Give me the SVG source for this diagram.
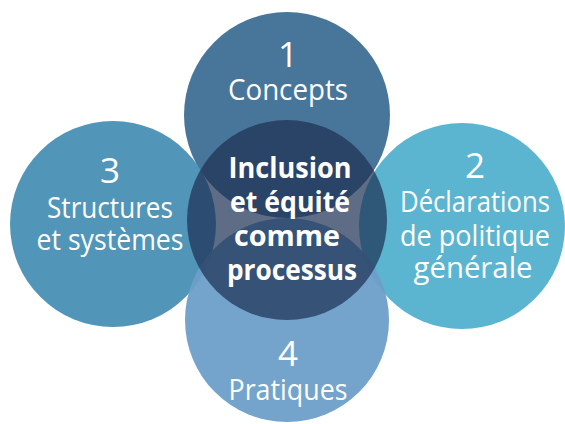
<svg xmlns="http://www.w3.org/2000/svg" width="565" height="424" viewBox="0 0 565 424">
<style>
.lbl{font-family:"Open Sans","Noto Sans",sans-serif;fill:#fff;text-anchor:middle;font-size:29px}
.num{font-size:35px}
.ctr{font-family:"Open Sans","Noto Sans",sans-serif;fill:#fff;text-anchor:middle;font-size:29px;font-weight:bold}
.outer{opacity:0.95}
</style>
<rect width="565" height="424" fill="#fff"/>
<g id="node-top"><circle class="outer" cx="287" cy="115" r="103" fill="#3e6e95"/></g>
<g id="node-right"><circle class="outer" cx="462" cy="226" r="103" fill="#53b1ce"/></g>
<g id="node-left"><circle class="outer" cx="113" cy="224" r="103" fill="#4890b5"/></g>
<g id="node-bottom"><circle class="outer" cx="287" cy="320" r="102" fill="#6d9fc8"/></g>
<g id="node-center"><circle cx="287" cy="220" r="100" fill="#1e3053" fill-opacity="0.71"/></g>
<g id="connectors"></g>
<g id="labels">
<text class="lbl num" x="288" y="67">1</text>
<text class="lbl" x="288" y="100" textLength="120" lengthAdjust="spacingAndGlyphs">Concepts</text>
<text class="lbl num" x="475" y="178">2</text>
<text class="lbl" x="475" y="212" textLength="150" lengthAdjust="spacingAndGlyphs">Déclarations</text>
<text class="lbl" x="475" y="246" textLength="150" lengthAdjust="spacingAndGlyphs">de politique</text>
<text class="lbl" x="473" y="278" textLength="119" lengthAdjust="spacingAndGlyphs">générale</text>
<text class="lbl num" x="110" y="183">3</text>
<text class="lbl" x="110" y="218" textLength="126" lengthAdjust="spacingAndGlyphs">Structures</text>
<text class="lbl" x="110" y="250" textLength="147" lengthAdjust="spacingAndGlyphs">et systèmes</text>
<text class="lbl num" x="288" y="366">4</text>
<text class="lbl" x="288" y="400" textLength="119" lengthAdjust="spacingAndGlyphs">Pratiques</text>
<text class="ctr" x="290" y="178" textLength="123" lengthAdjust="spacingAndGlyphs">Inclusion</text>
<text class="ctr" x="290" y="212" textLength="120" lengthAdjust="spacingAndGlyphs">et équité</text>
<text class="ctr" x="287" y="246" textLength="106" lengthAdjust="spacingAndGlyphs">comme</text>
<text class="ctr" x="292" y="280" textLength="130" lengthAdjust="spacingAndGlyphs">processus</text>
</g>
</svg>
